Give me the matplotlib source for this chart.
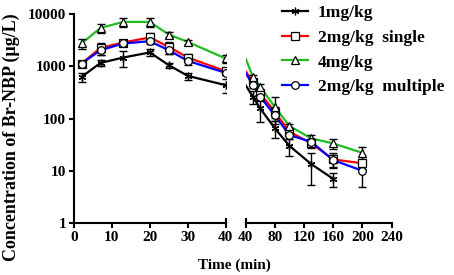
import matplotlib

matplotlib.use("Agg")
import matplotlib.pyplot as plt
import numpy as np
from matplotlib.ticker import FixedLocator, FuncFormatter, NullLocator

# sampling times (min)
time = [2, 7, 13, 20, 25, 30, 40, 50, 60, 80, 100, 130, 160, 200]

# mean concentrations (ug/L) and SD
conc_1 = [627, 1160, 1470, 1840, 1050, 655, 435, 260, 156, 65, 30, 13.4, 7.0]
sd_1 = [130, 150, 500, 300, 120, 100, 125, 70, 70, 23, 11, 8.5, 2]

conc_2s = [1130, 2250, 2850, 3560, 2350, 1470, 806, 503, 302, 134, 56, 33.4, 16.5, 13.9]
sd_2s = [150, 600, 300, 700, 600, 250, 100, 60, 50, 30, 10, 6, 5, 3]

conc_4 = [2730, 5420, 7060, 7060, 4055, 2930, 1410, 627, 404, 167, 72, 41.6, 33.4, 22]
sd_4 = [550, 1130, 1480, 1480, 500, 300, 270, 60, 60, 90, 8, 6, 7, 6]

conc_2m = [1130, 2030, 2730, 3020, 2030, 1270, 748, 435, 260, 116, 48, 35.8, 16, 10]
sd_2m = [150, 400, 300, 400, 300, 200, 80, 50, 40, 25, 8, 5, 4, 5]

labels = ["1mg/kg", "2mg/kg  single", "4mg/kg", "2mg/kg  multiple"]
colors = ["black", "#ff0000", "#22bb22", "#0000ff"]
markers = [(6, 2, 0), "s", "^", "o"]

series = [(conc_1, sd_1), (conc_2s, sd_2s), (conc_4, sd_4), (conc_2m, sd_2m)]

plt.rcParams["font.family"] = ["Liberation Serif", "DejaVu Serif"]
plt.rcParams["font.weight"] = "bold"

fig = plt.figure(figsize=(4.54, 2.75), dpi=100)
ax1 = fig.add_axes([0.163, 0.189, 0.334, 0.760])
ax2 = fig.add_axes([0.541, 0.189, 0.3216, 0.760])

MS = 5.5
handles = []
for (c, sd), lab, col, mk in zip(series, labels, colors, markers):
    t = np.array(time[: len(c)], dtype=float)
    c = np.array(c, dtype=float)
    sd = np.array(sd, dtype=float)
    lower = np.minimum(sd, c * 0.6)
    for ax, sel in ((ax1, t <= 40), (ax2, t >= 50)):
        line_sel = sel | (t == 40) if ax is ax2 else sel
        ax.plot(t[line_sel], c[line_sel], "-", color=col, lw=1.6, zorder=2)
        ax.errorbar(t[sel], c[sel], yerr=[lower[sel], sd[sel]], fmt="none",
                    ecolor="black", elinewidth=1.0, capsize=3, capthick=1.0,
                    zorder=3)
        ax.plot(t[sel], c[sel], linestyle="none", marker=mk, ms=MS,
                mfc="white" if mk != (6, 2, 0) else "black",
                mec="black", mew=0.9, zorder=4)
    h, = ax1.plot([], [], "-", color=col, lw=1.6, marker=mk, ms=MS,
                  mfc="white", mec="black", mew=0.9)
    handles.append(h)

for ax in (ax1, ax2):
    ax.set_yscale("log")
    ax.set_ylim(1, 10000)
    ax.spines["top"].set_visible(False)
    ax.spines["right"].set_visible(False)
    for s in ax.spines.values():
        s.set_linewidth(1.5)
    ax.tick_params(width=1.5, length=3.6, labelsize=11, pad=2)
    ax.yaxis.set_minor_locator(NullLocator())

ax1.set_xlim(0, 40)
ax1.set_xticks([0, 10, 20, 30, 40])
ax1.yaxis.set_major_locator(FixedLocator([1, 10, 100, 1000, 10000]))
ax1.yaxis.set_major_formatter(FuncFormatter(lambda v, p: f"{int(v)}"))
ax1.set_ylabel("Concentration of Br-NBP (μg/L)", fontsize=13,
               fontweight="bold", va="center")
ax1.yaxis.set_label_coords(-0.41, 0.41)

ax2.set_xlim(40, 240)
ax2.set_xticks([40, 80, 120, 160, 200, 240])
ax2.spines["left"].set_visible(False)
ax2.yaxis.set_visible(False)

# end caps of the broken x axis
for tk in (ax1.xaxis.get_major_ticks()[-1], ax2.xaxis.get_major_ticks()[0]):
    tk.tick1line.set_marker("|")
    tk.tick1line.set_markersize(7.2)

fig.text(0.517, 0.035, "Time (min)", ha="center", va="center",
         fontsize=11, fontweight="bold")

fig.legend(handles, labels, loc="upper left", bbox_to_anchor=(0.605, 1.008),
           frameon=False, fontsize=12.5, handlelength=1.5, handletextpad=0.6,
           labelspacing=0.5, borderaxespad=0)

fig.savefig("out.png", dpi=100)
